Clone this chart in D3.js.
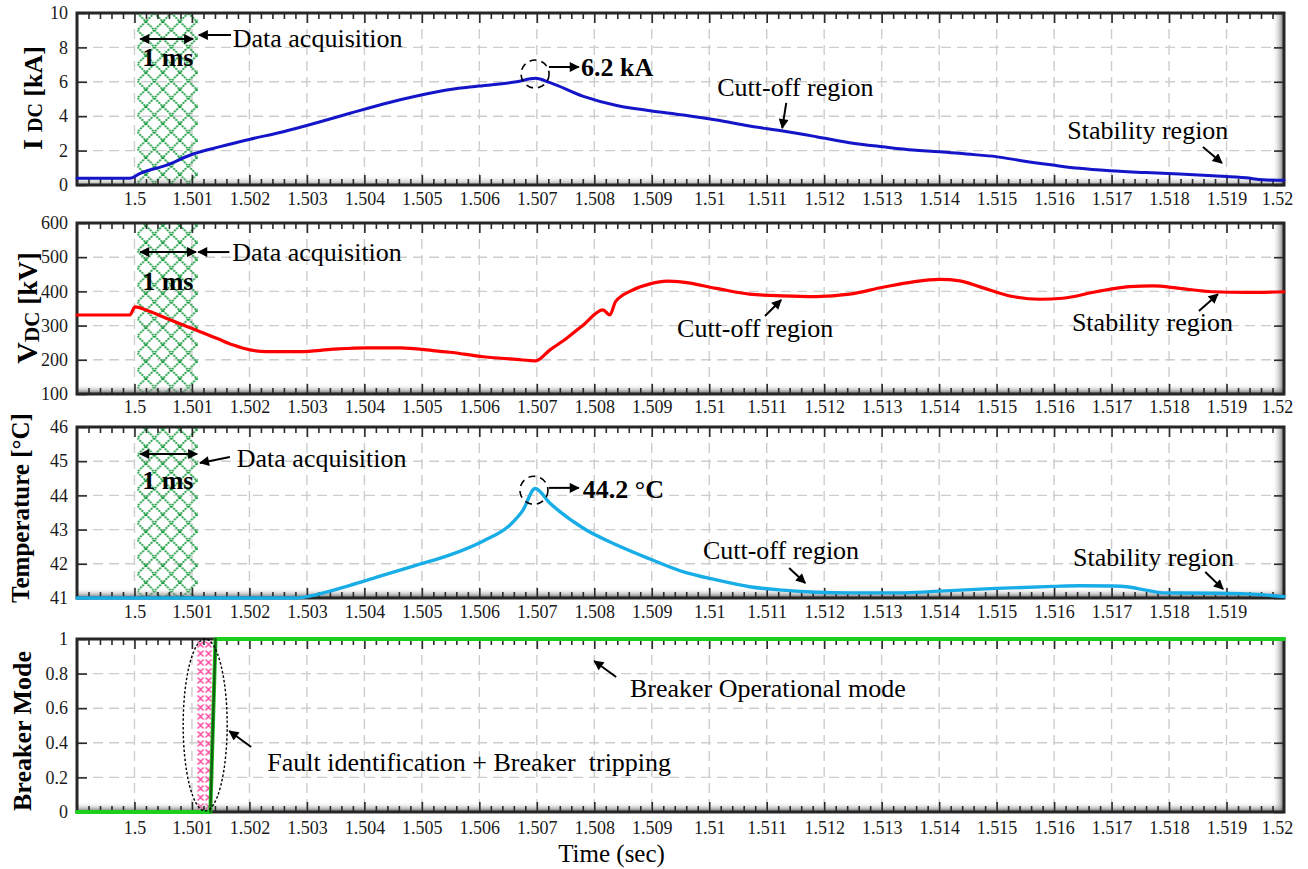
<!DOCTYPE html>
<html>
<head>
<meta charset="utf-8">
<script src="https://cdn.jsdelivr.net/npm/d3@7"></script>
<style>
  body { margin: 0; background: #fff; }
  svg { display: block; font-family: "Liberation Serif", "Times New Roman", serif; }
</style>
</head>
<body>
<svg id="chart" width="1308" height="869"></svg>
<script>
// ---------- time axis ----------
const timeDomain = [1.499, 1.52];
const timeTicks = [1.5, 1.501, 1.502, 1.503, 1.504, 1.505, 1.506, 1.507, 1.508, 1.509, 1.51,
                   1.511, 1.512, 1.513, 1.514, 1.515, 1.516, 1.517, 1.518, 1.519, 1.52];
const timeTickLabels = ["1.5", "1.501", "1.502", "1.503", "1.504", "1.505", "1.506", "1.507", "1.508", "1.509", "1.51",
                        "1.511", "1.512", "1.513", "1.514", "1.515", "1.516", "1.517", "1.518", "1.519", "1.52"];

// ---------- DC current (kA) ----------
const currentTime = [1.499, 1.49992, 1.5001, 1.50056, 1.50102, 1.50149, 1.50201, 1.50259, 1.50317, 1.50375,
                     1.50433, 1.50491, 1.50549, 1.50599, 1.50665, 1.50698, 1.50723, 1.50781, 1.50839, 1.50897,
                     1.50955, 1.51013, 1.5107, 1.51128, 1.51186, 1.51244, 1.51302, 1.51355, 1.51401, 1.51447,
                     1.51499, 1.51546, 1.51598, 1.51644, 1.51697, 1.5176, 1.51818, 1.51876, 1.51934, 1.51963, 1.52];
const currentKA = [0.39, 0.39, 0.68, 1.16, 1.80, 2.23, 2.66, 3.10, 3.62, 4.17,
                   4.71, 5.17, 5.55, 5.75, 6.0, 6.2, 5.95, 5.15, 4.62, 4.32,
                   4.07, 3.78, 3.43, 3.14, 2.81, 2.46, 2.22, 2.03, 1.94, 1.80,
                   1.65, 1.40, 1.16, 0.97, 0.83, 0.72, 0.64, 0.54, 0.42, 0.30, 0.27];
const currentTicks = [0, 2, 4, 6, 8, 10];

// ---------- DC voltage (kV) ----------
const voltageTime = [1.499, 1.49992, 1.50001, 1.50027, 1.50056, 1.50085, 1.50114, 1.50143, 1.50172, 1.50201,
                     1.5023, 1.50288, 1.50346, 1.50404, 1.50462, 1.5052, 1.50549, 1.50607, 1.50665, 1.50698,
                     1.50723, 1.50752, 1.50781, 1.50815, 1.50827, 1.50837, 1.50867, 1.50897, 1.50926, 1.50954,
                     1.51012, 1.5107, 1.51128, 1.51186, 1.51244, 1.51302, 1.51355, 1.51401, 1.51436, 1.5147,
                     1.51528, 1.51575, 1.51615, 1.51673, 1.51731, 1.51772, 1.51818, 1.51876, 1.51934, 1.52];
const voltageKV = [331, 331, 355, 341, 321, 302, 282, 263, 243, 229,
                   224, 224, 231, 235, 235, 227, 222, 209, 201, 197,
                   229, 263, 302, 346, 331, 370, 404, 422, 430, 427,
                   409, 392, 387, 385, 392, 412, 428, 435, 431, 414,
                   385, 377, 380, 399, 414, 416, 409, 399, 397, 399];
const voltageTicks = [100, 200, 300, 400, 500, 600];

// ---------- temperature (°C) ----------
const tempTime = [1.499, 1.50282, 1.50317, 1.50375, 1.50433, 1.50491, 1.50549, 1.50607, 1.50653, 1.50676,
                  1.50697, 1.50723, 1.50781, 1.50839, 1.50897, 1.50954, 1.51012, 1.5107, 1.51128, 1.51186,
                  1.51244, 1.51331, 1.51401, 1.51499, 1.51598, 1.51644, 1.51702, 1.51726, 1.5176, 1.51789,
                  1.51876, 1.51934, 1.52];
const tempC = [41.0, 41.0, 41.1, 41.37, 41.67, 41.96, 42.26, 42.67, 43.13, 43.57,
               44.2, 43.77, 43.04, 42.55, 42.14, 41.77, 41.53, 41.33, 41.23, 41.17,
               41.15, 41.15, 41.2, 41.28, 41.34, 41.36, 41.35, 41.33, 41.23, 41.15,
               41.14, 41.12, 41.04];
const tempTicks = [41, 42, 43, 44, 45, 46];

// ---------- breaker mode ----------
const breakerTime = [1.499, 1.50132, 1.50141, 1.52];
const breakerMode = [0, 0, 1, 1];
const tripTime = [1.50132, 1.50141];
const tripMode = [0, 1];
const breakerTicks = [0, 0.2, 0.4, 0.6, 0.8, 1];
const breakerTickLabels = ["0", "0.2", "0.4", "0.6", "0.8", "1"];

// shaded windows (s)
const acquisitionWindow = [1.50005, 1.5011];
const trippingWindow = [1.50108, 1.50137];

// ---------- layout ----------
const svg = d3.select("#chart");
const FONT = '"Liberation Serif", "Times New Roman", serif';
const x = d3.scaleLinear().domain(timeDomain).range([77, 1284]);

const panels = [
  { top: 13,  bottom: 185, domain: [0, 10],    ticks: currentTicks, tickText: currentTicks.map(String),
    labelGap: 7, showLast: true },
  { top: 223, bottom: 394, domain: [100, 600], ticks: voltageTicks, tickText: voltageTicks.map(String),
    labelGap: 6, showLast: true },
  { top: 427, bottom: 598, domain: [41, 46],   ticks: tempTicks,    tickText: tempTicks.map(String),
    labelGap: 7, showLast: false },
  { top: 639, bottom: 812, domain: [0, 1],     ticks: breakerTicks, tickText: breakerTickLabels,
    labelGap: 9, showLast: true }
];
panels.forEach(p => { p.y = d3.scaleLinear().domain(p.domain).range([p.bottom, p.top]); });

// ---------- defs ----------
const defs = svg.append("defs");
const green = defs.append("pattern").attr("id", "hatchGreen").attr("patternUnits", "userSpaceOnUse")
  .attr("width", 17).attr("height", 17).attr("x", x(acquisitionWindow[0])).attr("y", 13);
green.append("path").attr("d", "M0,0L17,17M17,0L0,17")
  .attr("stroke", "#149a3c").attr("stroke-width", 1.8).attr("stroke-dasharray", "2,1").attr("fill", "none");

const pink = defs.append("pattern").attr("id", "hatchPink").attr("patternUnits", "userSpaceOnUse")
  .attr("width", 8).attr("height", 9).attr("x", x(trippingWindow[0])).attr("y", 640);
pink.append("path").attr("d", "M1,1.5L7,7.5M7,1.5L1,7.5")
  .attr("stroke", "#ff4aa0").attr("stroke-width", 1.5).attr("fill", "none");

const gB = defs.append("linearGradient").attr("id", "shadeB").attr("x1", 0).attr("y1", 0).attr("x2", 0).attr("y2", 1);
gB.append("stop").attr("offset", 0).attr("stop-color", "#fff").attr("stop-opacity", 0);
gB.append("stop").attr("offset", 1).attr("stop-color", "#444").attr("stop-opacity", 1);
const gR = defs.append("linearGradient").attr("id", "shadeR").attr("x1", 0).attr("y1", 0).attr("x2", 1).attr("y2", 0);
gR.append("stop").attr("offset", 0).attr("stop-color", "#fff").attr("stop-opacity", 0);
gR.append("stop").attr("offset", 1).attr("stop-color", "#444").attr("stop-opacity", 1);

defs.append("marker").attr("id", "arrowHead").attr("viewBox", "0 0 10 10")
  .attr("refX", 9).attr("refY", 5).attr("markerWidth", 12).attr("markerHeight", 10)
  .attr("markerUnits", "userSpaceOnUse").attr("orient", "auto-start-reverse")
  .append("path").attr("d", "M0,0L10,5L0,10z").attr("fill", "#000");

// ---------- frames, grids and ticks ----------
const minorTicks = d3.range(1, 105).map(i => timeDomain[0] + i * 0.0002)
  .filter(t => !timeTicks.some(m => Math.abs(m - t) < 1e-7));

panels.forEach((p, i) => {
  const g = svg.append("g");
  const x0 = x.range()[0], x1 = x.range()[1];

  // dashed grid
  g.append("g").selectAll("line").data(timeTicks.filter(t => t < timeDomain[1])).join("line")
    .attr("x1", d => x(d)).attr("x2", d => x(d)).attr("y1", p.top).attr("y2", p.bottom)
    .attr("stroke", "#cdcdcd").attr("stroke-width", 1.4).attr("stroke-dasharray", "10,6");
  g.append("g").selectAll("line").data(p.ticks.slice(1, -1)).join("line")
    .attr("x1", x0).attr("x2", x1).attr("y1", d => p.y(d)).attr("y2", d => p.y(d))
    .attr("stroke", "#cdcdcd").attr("stroke-width", 1.4).attr("stroke-dasharray", "10,6");

  // hatched windows
  if (i < 3) {
    g.append("rect").attr("x", x(acquisitionWindow[0])).attr("y", p.top)
      .attr("width", x(acquisitionWindow[1]) - x(acquisitionWindow[0])).attr("height", p.bottom - p.top)
      .attr("fill", "url(#hatchGreen)");
  } else {
    g.append("rect").attr("x", x(trippingWindow[0])).attr("y", p.top)
      .attr("width", x(trippingWindow[1]) - x(trippingWindow[0])).attr("height", p.bottom - p.top)
      .attr("fill", "url(#hatchPink)");
  }

  // shaded inner edges
  g.append("rect").attr("x", x0).attr("y", p.bottom - 10).attr("width", x1 - x0).attr("height", 10)
    .attr("fill", "url(#shadeB)").attr("opacity", i === 0 ? 0.5 : 0.85);
  g.append("rect").attr("x", x1 - 12).attr("y", p.top).attr("width", 12).attr("height", p.bottom - p.top)
    .attr("fill", "url(#shadeR)").attr("opacity", 0.75);

  // x ticks, top and bottom, pointing inward
  const tickAxis = (axisFn, vals, len, ty) => {
    g.append("g").attr("transform", `translate(0,${ty})`)
      .call(axisFn(x).tickValues(vals).tickSize(-len).tickFormat(""))
      .call(a => a.select(".domain").remove())
      .selectAll("line").attr("stroke", "#2a2a2a").attr("stroke-width", 1.6);
  };
  const majors = timeTicks.filter(t => t < timeDomain[1]);
  tickAxis(d3.axisBottom, majors, 10, p.bottom);
  tickAxis(d3.axisBottom, minorTicks, 6, p.bottom);
  tickAxis(d3.axisTop, majors, 10, p.top);
  tickAxis(d3.axisTop, minorTicks, 6, p.top);

  // y ticks with labels on the left, bare ticks on the right
  g.append("g").attr("transform", `translate(${x0},0)`)
    .call(d3.axisLeft(p.y).tickValues(p.ticks).tickSize(-10).tickPadding(9)
      .tickFormat((d, k) => p.tickText[k]))
    .call(a => a.select(".domain").remove())
    .call(a => a.selectAll("line").attr("stroke", "#2a2a2a").attr("stroke-width", 1.6))
    .call(a => a.selectAll("text").attr("font-family", FONT).attr("font-size", 18).attr("fill", "#1a1a1a"));
  g.append("g").attr("transform", `translate(${x1},0)`)
    .call(d3.axisRight(p.y).tickValues(p.ticks).tickSize(-10).tickFormat(""))
    .call(a => a.select(".domain").remove())
    .selectAll("line").attr("stroke", "#2a2a2a").attr("stroke-width", 1.6);

  // x tick labels
  const lv = p.showLast ? timeTicks : timeTicks.slice(0, -1);
  const lt = p.showLast ? timeTickLabels : timeTickLabels.slice(0, -1);
  g.append("g").attr("transform", `translate(0,${p.bottom})`)
    .call(d3.axisBottom(x).tickValues(lv).tickSize(0).tickPadding(p.labelGap).tickFormat((d, k) => lt[k]))
    .call(a => a.select(".domain").remove())
    .call(a => a.selectAll("text").attr("font-family", FONT).attr("font-size", 18).attr("fill", "#1a1a1a"))
    .call(a => a.selectAll(".tick").filter(d => d === timeDomain[1]).select("text").attr("dx", -7));

  // frame
  g.append("rect").attr("x", x0).attr("y", p.top).attr("width", x1 - x0).attr("height", p.bottom - p.top)
    .attr("fill", "none").attr("stroke", "#262626").attr("stroke-width", 3);
});

// ---------- series ----------
function drawSeries(p, times, vals, color, width, curve) {
  const line = d3.line().x(d => x(d[0])).y(d => p.y(d[1])).curve(curve);
  svg.append("path").datum(d3.zip(times, vals)).attr("d", line)
    .attr("fill", "none").attr("stroke", color).attr("stroke-width", width)
    .attr("stroke-linejoin", "round").attr("stroke-linecap", "round");
}
drawSeries(panels[0], currentTime, currentKA, "#1414c8", 3, d3.curveMonotoneX);
drawSeries(panels[1], voltageTime, voltageKV, "#ff0000", 3.2, d3.curveMonotoneX);
drawSeries(panels[2], tempTime, tempC, "#18ade6", 3.4, d3.curveMonotoneX);
drawSeries(panels[3], breakerTime, breakerMode, "#1ccf1c", 4, d3.curveLinear);
drawSeries(panels[3], tripTime, tripMode, "#155c15", 2.4, d3.curveLinear);

// ---------- annotations ----------
const notes = [
  { p: 0, text: "Data acquisition", t: 1.50171, v: 8.55 },
  { p: 0, text: "1 ms", t: 1.50058, v: 7.44, bold: true, mid: true },
  { p: 0, text: "6.2 kA", t: 1.50777, v: 6.86, bold: true },
  { p: 0, text: "Cutt-off region", t: 1.51014, v: 5.70 },
  { p: 0, text: "Stability region", t: 1.51623, v: 3.20 },
  { p: 1, text: "Data acquisition", t: 1.50170, v: 515 },
  { p: 1, text: "1 ms", t: 1.50058, v: 430, bold: true, mid: true },
  { p: 1, text: "Cutt-off region", t: 1.50944, v: 293 },
  { p: 1, text: "Stability region", t: 1.51631, v: 311 },
  { p: 2, text: "Data acquisition", t: 1.50178, v: 45.09 },
  { p: 2, text: "1 ms", t: 1.50058, v: 44.45, bold: true, mid: true },
  { p: 2, text: "44.2 °C", t: 1.50780, v: 44.19, bold: true },
  { p: 2, text: "Cutt-off region", t: 1.50989, v: 42.40 },
  { p: 2, text: "Stability region", t: 1.51633, v: 42.20 },
  { p: 3, text: "Breaker Operational mode", t: 1.50862, v: 0.717 },
  { p: 3, text: "Fault identification + Breaker  tripping", t: 1.50231, v: 0.289 }
];
const arrows = [
  { p: 0, t0: 1.50168, v0: 8.72, t1: 1.50112, v1: 8.72 },
  { p: 0, t0: 1.50010, v0: 8.49, t1: 1.50102, v1: 8.49, both: true },
  { p: 0, t0: 1.50721, v0: 6.86, t1: 1.50773, v1: 6.86 },
  { p: 0, t0: 1.51134, v0: 4.77, t1: 1.51127, v1: 3.31 },
  { p: 0, t0: 1.51859, v0: 2.21, t1: 1.51892, v1: 1.28 },
  { p: 1, t0: 1.50165, v0: 515, t1: 1.50111, v1: 515 },
  { p: 1, t0: 1.50010, v0: 515, t1: 1.50107, v1: 515, both: true },
  { p: 1, t0: 1.51097, v0: 328, t1: 1.51125, v1: 375 },
  { p: 1, t0: 1.51852, v0: 343, t1: 1.51885, v1: 392 },
  { p: 2, t0: 1.50166, v0: 45.12, t1: 1.50114, v1: 44.95 },
  { p: 2, t0: 1.50010, v0: 45.21, t1: 1.50109, v1: 45.21, both: true },
  { p: 2, t0: 1.50721, v0: 44.22, t1: 1.50773, v1: 44.22 },
  { p: 2, t0: 1.51139, v0: 41.88, t1: 1.51167, v1: 41.44 },
  { p: 2, t0: 1.51863, v0: 41.76, t1: 1.51894, v1: 41.26 },
  { p: 3, t0: 1.50838, v0: 0.780, t1: 1.50800, v1: 0.873 },
  { p: 3, t0: 1.50203, v0: 0.376, t1: 1.50165, v1: 0.468 }
];
const circles = [
  { p: 0, t: 1.50697, v: 6.45, r: 14 },
  { p: 2, t: 1.50695, v: 44.15, r: 14 }
];

const ann = svg.append("g");
ann.selectAll("circle").data(circles).join("circle")
  .attr("cx", d => x(d.t)).attr("cy", d => panels[d.p].y(d.v)).attr("r", d => d.r)
  .attr("fill", "none").attr("stroke", "#000").attr("stroke-width", 1.6).attr("stroke-dasharray", "7,5");

ann.append("ellipse")
  .attr("cx", x(1.50123)).attr("cy", panels[3].y(0.503)).attr("rx", 22).attr("ry", 86)
  .attr("fill", "none").attr("stroke", "#000").attr("stroke-width", 1.4).attr("stroke-dasharray", "2.5,2");

ann.selectAll("line.arrow").data(arrows).join("line").attr("class", "arrow")
  .attr("x1", d => x(d.t0)).attr("y1", d => panels[d.p].y(d.v0))
  .attr("x2", d => x(d.t1)).attr("y2", d => panels[d.p].y(d.v1))
  .attr("stroke", "#000").attr("stroke-width", 2)
  .attr("marker-end", "url(#arrowHead)")
  .attr("marker-start", d => d.both ? "url(#arrowHead)" : null);

ann.selectAll("text.note").data(notes).join("text").attr("class", "note")
  .attr("x", d => x(d.t)).attr("y", d => panels[d.p].y(d.v)).attr("dy", "0.35em")
  .attr("text-anchor", d => d.mid ? "middle" : "start")
  .attr("font-family", FONT).attr("font-size", 26)
  .attr("font-weight", d => d.bold ? "bold" : "normal")
  .style("white-space", "pre")
  .text(d => d.text);

// ---------- axis titles ----------
function yTitle(cx, cy, parts) {
  const t = svg.append("text").attr("transform", `translate(${cx},${cy}) rotate(-90)`)
    .attr("text-anchor", "middle").attr("font-family", FONT).attr("font-weight", "bold").style("white-space", "pre");
  parts.forEach(pt => t.append("tspan").attr("font-size", pt.size).attr("dy", pt.dy || 0).text(pt.s));
}
yTitle(42, 98, [{ s: "I ", size: 28 }, { s: "DC", size: 20 }, { s: " [kA]", size: 26 }]);
yTitle(37, 308, [{ s: "V", size: 30 }, { s: "DC", size: 21, dy: 2 }, { s: " [kV]", size: 27, dy: -2 }]);
yTitle(29, 508, [{ s: "Temperature [°C]", size: 25 }]);
yTitle(31, 731, [{ s: "Breaker Mode", size: 26 }]);

svg.append("text").attr("x", x(1.5083)).attr("y", 853).attr("dy", "0.35em")
  .attr("text-anchor", "middle").attr("font-family", FONT).attr("font-size", 25)
  .text("Time (sec)");
</script>
</body>
</html>
